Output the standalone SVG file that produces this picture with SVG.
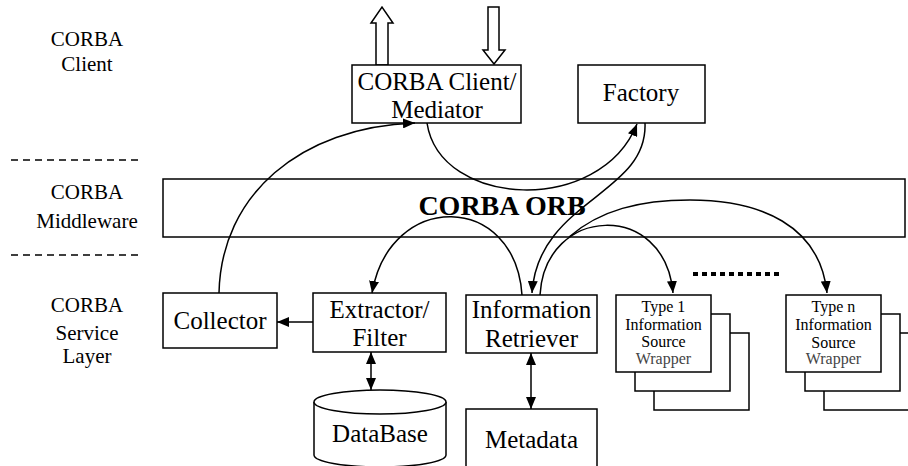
<svg xmlns="http://www.w3.org/2000/svg" width="908" height="466" viewBox="0 0 908 466">
  <defs>
    <marker id="head" viewBox="0 0 12 10" refX="12" refY="5" markerWidth="12" markerHeight="10" markerUnits="userSpaceOnUse" orient="auto-start-reverse">
      <path d="M0,0 L12,5 L0,10 z" fill="#000"/>
    </marker>
    <style>
      text { font-family: 'Liberation Serif', 'DejaVu Serif', 'Times New Roman', serif; fill: #000; text-anchor: middle; }
      .box { fill: #fff; stroke: #000; stroke-width: 1.5; }
      .layer { font-size: 21px; }
      .node { font-size: 25px; }
      .small { font-size: 16px; }
      .grey { fill: #444; }
      .dash { stroke: #000; stroke-width: 1.5; stroke-dasharray: 7 5; fill: none; }
      .edge { fill: none; stroke: #000; stroke-width: 1.5; }
      .hollow { fill: #fff; stroke: #000; stroke-width: 1.5; }
    </style>
  </defs>

  <!-- layer captions and separators -->
  <g id="layers">
    <text class="layer" x="87" y="46">CORBA</text>
    <text class="layer" x="87" y="71">Client</text>
    <line class="dash" x1="11" y1="160" x2="138" y2="160"/>
    <text class="layer" x="87" y="199">CORBA</text>
    <text class="layer" x="87" y="228">Middleware</text>
    <line class="dash" x1="11" y1="255" x2="138" y2="255"/>
    <text class="layer" x="87" y="312">CORBA</text>
    <text class="layer" x="87" y="340">Service</text>
    <text class="layer" x="87" y="363">Layer</text>
  </g>

  <!-- ORB band -->
  <g id="orb">
    <rect class="box" x="163" y="179" width="742" height="58"/>
    <text x="502" y="215" style="font-size:28px;font-weight:bold">CORBA ORB</text>
  </g>

  <!-- request / response arrows at the client -->
  <g id="client-io">
    <polygon class="hollow" points="376,65 376,23 371,23 382,7 393,23 388,23 388,65"/>
    <polygon class="hollow" points="488,7 499,7 499,50 505,50 494,64 483,50 488,50"/>
  </g>

  <g id="mediator">
    <rect class="box" x="352" y="65" width="169" height="58"/>
    <text class="node" x="437" y="90">CORBA Client/</text>
    <text class="node" x="437" y="118">Mediator</text>
  </g>

  <g id="factory">
    <rect class="box" x="578" y="65" width="127" height="58"/>
    <text class="node" x="641" y="101">Factory</text>
  </g>

  <g id="collector">
    <rect class="box" x="163" y="293" width="114" height="55"/>
    <text class="node" x="220" y="329">Collector</text>
  </g>

  <g id="extractor">
    <rect class="box" x="313" y="293" width="133" height="59"/>
    <text class="node" x="379.5" y="318">Extractor/</text>
    <text class="node" x="379.5" y="346">Filter</text>
  </g>

  <g id="retriever">
    <rect class="box" x="466" y="295" width="131" height="58"/>
    <text class="node" x="531.5" y="318">Information</text>
    <text class="node" x="531.5" y="347">Retriever</text>
  </g>

  <g id="database">
    <path class="box" d="M314,402 L314,455 A66,12 0 0 0 446,455 L446,402"/>
    <ellipse class="box" cx="380" cy="402" rx="66" ry="12"/>
    <text class="node" x="380" y="442">DataBase</text>
  </g>

  <g id="metadata">
    <rect class="box" x="466" y="409" width="131" height="70"/>
    <text class="node" x="531.5" y="448">Metadata</text>
  </g>

  <g id="wrapper-1">
    <rect class="box" x="654" y="333" width="95" height="77"/>
    <rect class="box" x="635" y="314" width="95" height="77"/>
    <rect class="box" x="616" y="295" width="95" height="77"/>
    <text class="small" x="663.5" y="312">Type 1</text>
    <text class="small" x="663.5" y="330">Information</text>
    <text class="small" x="663.5" y="347">Source</text>
    <text class="small grey" x="663.5" y="364">Wrapper</text>
  </g>

  <g id="wrapper-n">
    <rect class="box" x="824" y="333" width="95" height="77"/>
    <rect class="box" x="805" y="314" width="95" height="77"/>
    <rect class="box" x="786" y="295" width="95" height="77"/>
    <text class="small" x="833.5" y="312">Type n</text>
    <text class="small" x="833.5" y="330">Information</text>
    <text class="small" x="833.5" y="348">Source</text>
    <text class="small grey" x="833.5" y="364">Wrapper</text>
  </g>

  <!-- ellipsis between wrapper types -->
  <line x1="693" y1="274" x2="782" y2="274" stroke="#000" stroke-width="4" stroke-dasharray="5 4"/>

  <g id="connectors">
    <!-- collector up to the mediator -->
    <path class="edge" d="M219,293 C221,195 300,127 415,123" marker-end="url(#head)"/>
    <!-- mediator to factory -->
    <path class="edge" d="M427,123 C440,208 600,216 637,124" marker-end="url(#head)"/>
    <!-- factory to information retriever -->
    <path class="edge" d="M645,123 C648,195 538,200 532,293" marker-end="url(#head)"/>
    <!-- retriever to extractor -->
    <path class="edge" d="M522,295 C515,192 390,190 372,293" marker-end="url(#head)"/>
    <!-- retriever to type 1 wrapper -->
    <path class="edge" d="M540,295 C545,205 665,200 673,293" marker-end="url(#head)"/>
    <!-- branch off the type 1 line towards the type n wrapper -->
    <path class="edge" d="M569,237 C600,210 640,200 690,200 C760,200 820,225 827,293" marker-end="url(#head)"/>
    <!-- extractor to collector -->
    <line class="edge" x1="313" y1="322" x2="277" y2="322" marker-end="url(#head)"/>
    <!-- extractor <-> database -->
    <line class="edge" x1="371" y1="352" x2="371" y2="390" marker-start="url(#head)" marker-end="url(#head)"/>
    <!-- retriever <-> metadata -->
    <line class="edge" x1="531" y1="353" x2="531" y2="409" marker-start="url(#head)" marker-end="url(#head)"/>
  </g>
</svg>
